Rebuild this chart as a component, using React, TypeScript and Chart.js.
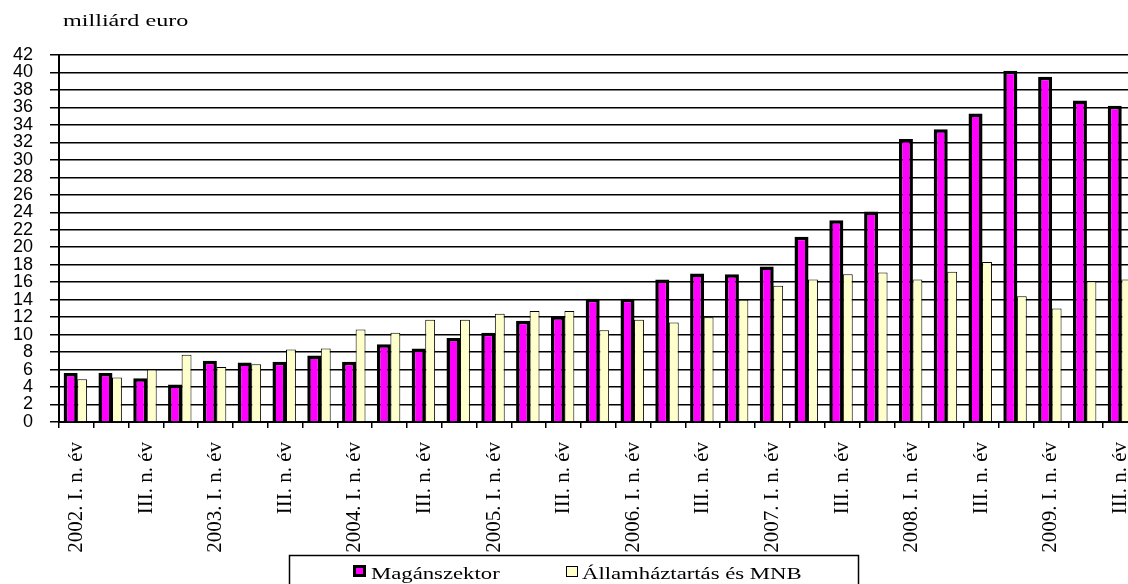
import React, { useEffect, useRef } from 'react';
import { Chart, registerables } from 'chart.js';

Chart.register(...registerables);

const categories = [
  '2002. I. n. év', 'II. n. év', 'III. n. év', 'IV. n. év',
  '2003. I. n. év', 'II. n. év', 'III. n. év', 'IV. n. év',
  '2004. I. n. év', 'II. n. év', 'III. n. év', 'IV. n. év',
  '2005. I. n. év', 'II. n. év', 'III. n. év', 'IV. n. év',
  '2006. I. n. év', 'II. n. év', 'III. n. év', 'IV. n. év',
  '2007. I. n. év', 'II. n. év', 'III. n. év', 'IV. n. év',
  '2008. I. n. év', 'II. n. év', 'III. n. év', 'IV. n. év',
  '2009. I. n. év', 'II. n. év', 'III. n. év',
];

const privateSector = [
  5.6, 5.6, 5.0, 4.3, 7.0, 6.8, 6.9, 7.6, 6.9, 8.9, 8.4, 9.6, 10.2, 11.6, 12.1, 14.1,
  14.1, 16.3, 17.0, 16.9, 17.8, 21.2, 23.1, 24.1, 32.4, 33.5, 35.3, 40.2, 39.5, 36.8, 36.2,
];

const governmentMnb = [
  4.9, 5.1, 6.0, 7.7, 6.3, 6.6, 8.3, 8.4, 10.6, 10.2, 11.7, 11.7, 12.4, 12.7, 12.7, 10.5,
  11.7, 11.4, 12.0, 14.0, 15.6, 16.3, 16.9, 17.1, 16.3, 17.2, 18.3, 14.4, 13.0, 16.1, 16.3,
];

const seriesNames = ['Magánszektor', 'Államháztartás és MNB'];
const unitTitle = 'milliárd euro';
const yMin = 0;
const yMax = 42;
const yStep = 2;

const SERIF = '"Liberation Serif", "Times New Roman", serif';
const STRETCH = 1.42;

const decorPlugin = {
  id: 'decor',
  afterDraw(chart: any) {
    const ctx: CanvasRenderingContext2D = chart.ctx;
    // unit title
    ctx.save();
    ctx.fillStyle = '#000';
    ctx.font = `17px ${SERIF}`;
    ctx.textBaseline = 'alphabetic';
    ctx.textAlign = 'left';
    ctx.translate(63, 26);
    ctx.scale(STRETCH, 1);
    ctx.fillText(unitTitle, 0, 0);
    ctx.restore();

    // legend box
    ctx.save();
    ctx.strokeStyle = '#000';
    ctx.lineWidth = 1.5;
    ctx.strokeRect(289.5, 555.5, 569, 40);

    const ds = chart.data.datasets;
    // item 1
    ctx.fillStyle = '#000';
    ctx.fillRect(353, 565, 13, 12);
    ctx.fillStyle = ds[0].backgroundColor;
    ctx.fillRect(356, 568, 7, 6);
    // item 2
    ctx.fillStyle = ds[1].backgroundColor;
    ctx.fillRect(566.5, 566.5, 11, 10);
    ctx.strokeStyle = '#000';
    ctx.lineWidth = 1;
    ctx.strokeRect(566.5, 566.5, 11, 10);

    ctx.fillStyle = '#000';
    ctx.font = `16px ${SERIF}`;
    ctx.textBaseline = 'alphabetic';
    ctx.textAlign = 'left';
    ctx.save();
    ctx.translate(371, 579);
    ctx.scale(STRETCH, 1);
    ctx.fillText(ds[0].label, 0, 0);
    ctx.restore();
    ctx.save();
    ctx.translate(582, 579);
    ctx.scale(STRETCH, 1);
    ctx.fillText(ds[1].label, 0, 0);
    ctx.restore();
    ctx.restore();
  },
};

export default function App() {
  const canvasRef = useRef<HTMLCanvasElement | null>(null);

  useEffect(() => {
    if (!canvasRef.current) return;
    const chart = new Chart(canvasRef.current, {
      type: 'bar',
      data: {
        labels: categories,
        datasets: [
          {
            label: seriesNames[0],
            data: privateSector,
            backgroundColor: '#FF00FF',
            borderColor: '#000000',
            borderWidth: 3.5,
            barPercentage: 1.22,
            categoryPercentage: 0.66,
          },
          {
            label: seriesNames[1],
            data: governmentMnb,
            backgroundColor: '#FFFFCC',
            borderColor: '#000000',
            borderWidth: 1,
            barPercentage: 0.86,
            categoryPercentage: 0.66,
          },
        ],
      },
      options: {
        responsive: false,
        animation: false,
        devicePixelRatio: 1,
        layout: { padding: { left: 0, right: 20, top: 55, bottom: 0 } },
        plugins: {
          legend: { display: false },
          title: { display: false },
          tooltip: { enabled: false },
        },
        scales: {
          x: {
            grid: {
              offset: true,
              drawOnChartArea: false,
              drawTicks: true,
              tickLength: 6,
              color: '#000',
              lineWidth: 1.5,
            },
            border: { display: true, color: '#000', width: 2 },
            ticks: {
              autoSkip: false,
              minRotation: 90,
              maxRotation: 90,
              padding: 14,
              color: '#000',
              font: { family: SERIF, size: 21 },
              callback: (_v: any, i: number) => (i % 2 === 0 ? categories[i] : ''),
            },
            afterFit: (s: any) => {
              s.height = 162;
            },
          },
          y: {
            min: yMin,
            max: yMax,
            ticks: {
              stepSize: yStep,
              autoSkip: false,
              padding: 17,
              color: '#000',
              font: { family: '"Liberation Sans", Arial, sans-serif', size: 18 },
            },
            grid: { color: '#000', lineWidth: 1.5, tickLength: 9 },
            border: { color: '#000', width: 2 },
            afterFit: (s: any) => {
              s.width = 59;
            },
          },
        },
      },
      plugins: [decorPlugin],
    });
    return () => chart.destroy();
  }, []);

  return (
    <div
      style={{
        position: 'fixed',
        left: 0,
        top: 0,
        width: 1128,
        height: 584,
        overflow: 'hidden',
        background: '#fff',
      }}
    >
      <canvas ref={canvasRef} width={1160} height={584} style={{ display: 'block' }} />
    </div>
  );
}
